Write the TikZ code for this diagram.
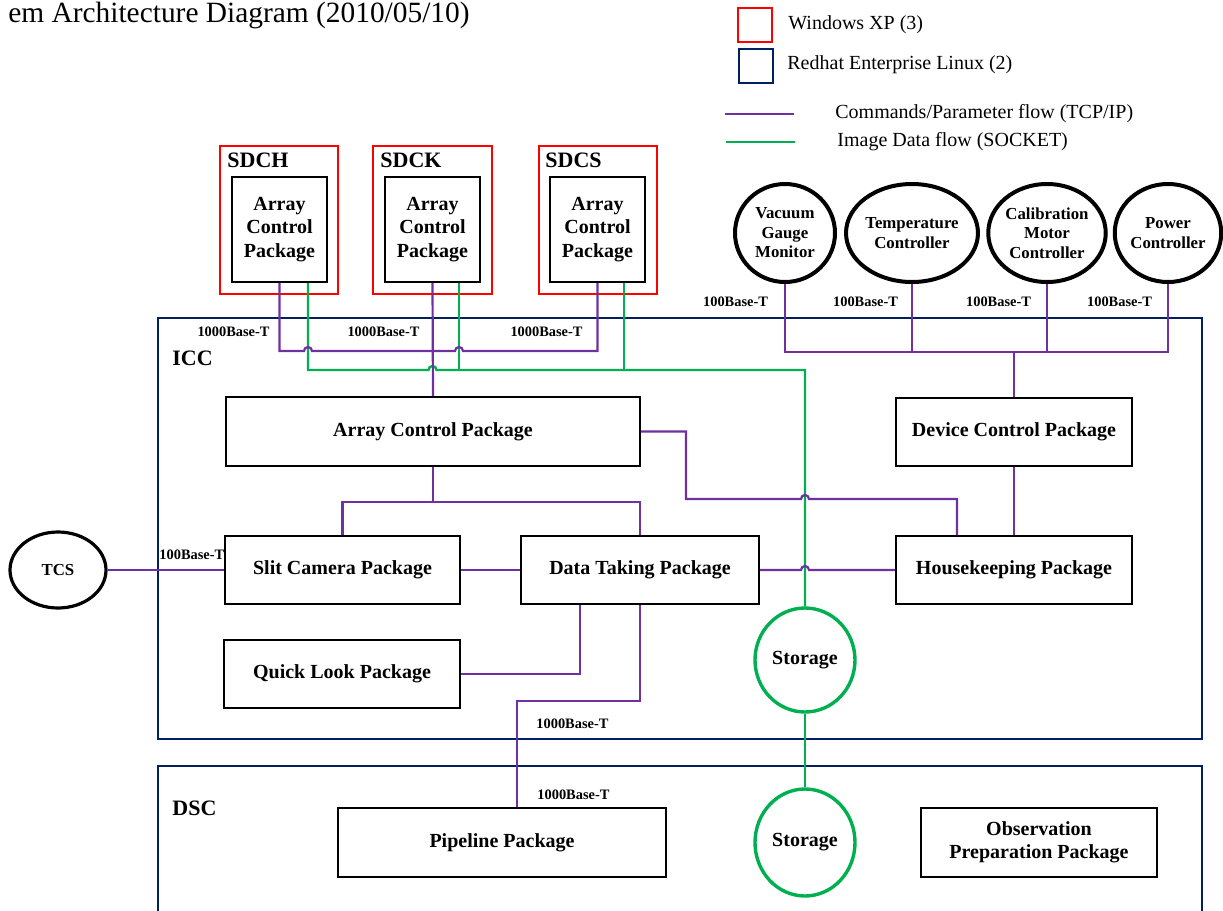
\documentclass[tikz,border=0pt]{standalone}
\usepackage{fontspec}
\setmainfont{Liberation Serif}
\usetikzlibrary{shapes.geometric}
\definecolor{cmdpurple}{RGB}{112,48,160}
\definecolor{imggreen}{RGB}{0,176,80}
\definecolor{linuxblue}{RGB}{0,32,96}
\tikzset{
  pkg/.style={draw,line width=1pt,inner sep=0pt,align=center,
    font=\bfseries\fontsize{10}{11.7}\selectfont},
  device/.style={ellipse,draw,line width=2pt,inner sep=0pt,align=center,
    minimum width=50pt,minimum height=49pt,
    font=\bfseries\fontsize{8.4}{9.75}\selectfont},
  storage/.style={ellipse,draw=imggreen,line width=1.7pt,inner sep=0pt,
    minimum width=50pt,font=\bfseries\fontsize{10}{12}\selectfont},
  winbox/.style={draw=red,line width=1pt,inner sep=0pt},
  linbox/.style={draw=linuxblue,line width=1pt},
  cmd/.style={cmdpurple,line width=1.1pt},
  img/.style={imggreen,line width=1.2pt},
  lanlbl/.style={inner sep=0pt,font=\bfseries\fontsize{7.2}{8}\selectfont},
  hostlbl/.style={inner sep=0pt,font=\bfseries\fontsize{11}{13}\selectfont},
  legendtxt/.style={inner sep=0pt,font=\fontsize{10}{12}\selectfont},
}
\begin{document}
\begin{tikzpicture}[x=0.5pt,y=-0.5pt]
  \useasboundingbox (0,0) rectangle (1223,911);
  % 标题
  \node[anchor=base east,inner sep=0pt,font=\fontsize{14.7}{16}\selectfont]
    (title) at (470,22) {em Architecture Diagram (2010/05/10)};

  % 图例
  \node[winbox,minimum size=17pt] (winkey) at (755,24.5) {};
  \node[linbox,minimum size=17pt,inner sep=0pt] (linkey) at (756,66) {};
  \node[legendtxt,anchor=west] (wintxt) at (788,25) {Windows XP (3)};
  \node[legendtxt,anchor=west] (lintxt) at (787,65) {Redhat Enterprise Linux (2)};
  \coordinate (cmdA) at (725,114);
  \coordinate (cmdB) at (794,114);
  \coordinate (imgA) at (726,142);
  \coordinate (imgB) at (795,142);
  \draw[cmd] (cmdA) -- (cmdB);
  \draw[img] (imgA) -- (imgB);
  \node[legendtxt,anchor=west] (cmdtxt) at (835,114) {Commands/Parameter flow (TCP/IP)};
  \node[legendtxt,anchor=west] (imgtxt) at (837,142) {Image Data flow (SOCKET)};

  % ICC / DSC
  \draw[linbox] (158,318) rectangle (1202,739);
  \draw[linbox] (158,911) -- (158,766) -- (1202,766) -- (1202,911);
  \node[hostlbl,anchor=west] (icc) at (172,358) {ICC};
  \node[hostlbl,anchor=west] (dsc) at (172,808) {DSC};

  % SDC 主机
  \node[winbox,minimum width=59pt,minimum height=74pt] (sdch) at (279,220) {};
  \node[winbox,minimum width=59.5pt,minimum height=74pt] (sdck) at (432.5,220) {};
  \node[winbox,minimum width=59pt,minimum height=74pt] (sdcs) at (598,220) {};
  \node[hostlbl,anchor=base west] (sdchlbl) at (227,167) {SDCH};
  \node[hostlbl,anchor=base west] (sdcklbl) at (380,167) {SDCK};
  \node[hostlbl,anchor=base west] (sdcslbl) at (545,167) {SDCS};
  \node[pkg,minimum width=47.5pt,minimum height=52.5pt] (ach1) at (279.5,229.5) {Array\\Control\\Package};
  \node[pkg,minimum width=47.5pt,minimum height=52.5pt] (ach2) at (432.5,229.5) {Array\\Control\\Package};
  \node[pkg,minimum width=47.5pt,minimum height=52.5pt] (ach3) at (597.5,229.5) {Array\\Control\\Package};

  % 设备
  \node[device] (vgm) at (785,233) {Vacuum\\Gauge\\Monitor};
  \node[device] (tmc) at (912,233) {Temperature\\Controller};
  \node[device] (cmc) at (1047,233) {Calibration\\Motor\\Controller};
  \node[device] (pwc) at (1168,233) {Power\\Controller};
  \node[device,line width=1.6pt,minimum width=48pt,minimum height=38pt] (tcs) at (58,570) {TCS};

  % 软件包
  \node[pkg,minimum width=207pt,minimum height=34.5pt] (acp) at (433,431.5) {Array Control Package};
  \node[pkg,minimum width=118pt,minimum height=34pt] (dcp) at (1014,432) {Device Control Package};
  \node[pkg,minimum width=117.5pt,minimum height=34pt] (scp) at (342.5,570) {Slit Camera Package};
  \node[pkg,minimum width=119pt,minimum height=34pt] (dtp) at (640,570) {Data Taking Package};
  \node[pkg,minimum width=118pt,minimum height=34pt] (hkp) at (1014,570) {Housekeeping Package};
  \node[pkg,minimum width=118pt,minimum height=34pt] (qlp) at (342,674) {Quick Look Package};
  \node[pkg,minimum width=164pt,minimum height=34.5pt] (ppl) at (502,842.5) {Pipeline Package};
  \node[pkg,minimum width=118pt,minimum height=34.5pt] (opp) at (1039,842.5) {Observation\\Preparation Package};
  \node[storage,minimum height=52pt] (sto) at (805,660) {Storage};
  \node[storage,minimum height=53.5pt] (dsto) at (805,842.5) {Storage};

  % 网络标注
  \foreach \x in {233.5,383.5,546.5}
    \node[lanlbl] at (\x,332) {1000Base-T};
  \foreach \x in {735.5,865.5,998.5,1119.5}
    \node[lanlbl] at (\x,302) {100Base-T};
  \node[lanlbl,anchor=west] (tcslan) at (159,555) {100Base-T};
  \node[lanlbl,anchor=west] (icclan) at (536,724) {1000Base-T};
  \node[lanlbl,anchor=west] (dsclan) at (537,795) {1000Base-T};

  % 总线
  \coordinate (busA) at (0,351);
  \coordinate (busB) at (0,370);
  \coordinate (busC) at (0,352);
  \coordinate (busD) at (0,502);
  \coordinate (busE) at (686,499);
  \coordinate (busF) at (0,701);
  \coordinate (g1) at ([xshift=14.25pt]ach1.south);
  \coordinate (g2) at ([xshift=13.25pt]ach2.south);
  \coordinate (g3) at ([xshift=13.25pt]ach3.south);

  % 图像数据 (绿)
  \draw[img] (g1) |- ([xshift=-2pt]ach2.south |- busB)
    arc[start angle=180,end angle=0,radius=2pt] -| (sto.north);
  \draw[img] (g2) -- (g2 |- busB);
  \draw[img] (g3) -- (g3 |- busB);
  \draw[img] (sto.south) -- (dsto.north);

  % 命令 (紫)
  \draw[cmd] (ach1.south) |- ([xshift=-2pt]g1 |- busA)
    arc[start angle=180,end angle=0,radius=2pt] -- ([xshift=-2pt]g2 |- busA)
    arc[start angle=180,end angle=0,radius=2pt] -| (ach3.south);
  \draw[cmd] (ach2.south) -- (acp.north);
  \draw[cmd] (vgm.south) |- (pwc.south |- busC) -- (pwc.south);
  \draw[cmd] (tmc.south) -- (tmc.south |- busC);
  \draw[cmd] (cmc.south) -- (cmc.south |- busC);
  \draw[cmd] (dcp.north) -- (dcp.north |- busC);
  \draw[cmd] (dcp.south) -- (hkp.north);
  \draw[cmd] (acp.south) -- (acp.south |- busD);
  \draw[cmd] (scp.north) |- (dtp.north |- busD) -- (dtp.north);
  \draw[cmd] (acp.east) -| (busE) -- ([xshift=-2pt]sto.north |- busE)
    arc[start angle=180,end angle=0,radius=2pt] -| ([xshift=-28.5pt]hkp.north);
  \draw[cmd] (tcs.east) -- (scp.west);
  \draw[cmd] (scp.east) -- (dtp.west);
  \draw[cmd] (dtp.east) -- ([xshift=-2pt]sto.north |- dtp.east)
    arc[start angle=180,end angle=0,radius=2pt] -- (hkp.west);
  \draw[cmd] (qlp.east) -| ([xshift=-30pt]dtp.south);
  \draw[cmd] (dtp.south) |- ([xshift=7.5pt]ppl.north |- busF) -- ([xshift=7.5pt]ppl.north);
\end{tikzpicture}
\end{document}
